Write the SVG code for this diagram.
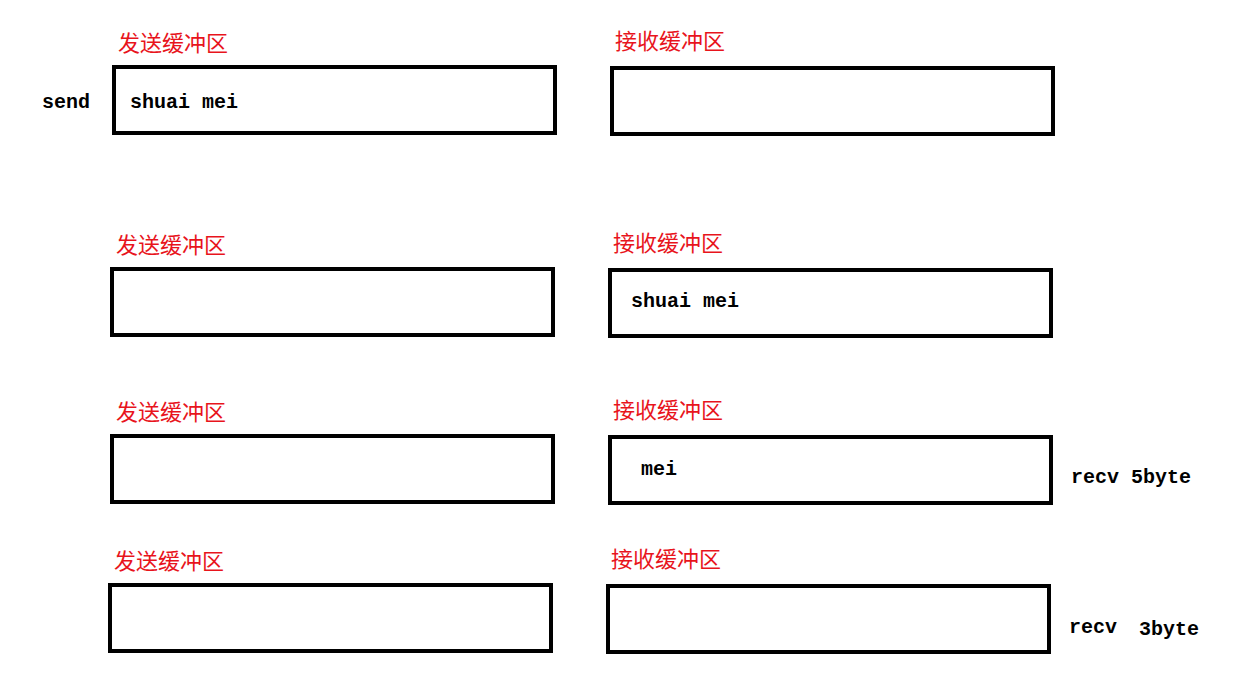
<svg xmlns="http://www.w3.org/2000/svg" width="1257" height="681" viewBox="0 0 1257 681">
<style>
.box{fill:#fff;stroke:#000;stroke-width:4}
.cn{font-family:"Noto Sans CJK SC",sans-serif;font-size:22px;fill:#e8141c}
.t{font-family:"Liberation Mono",monospace;font-size:20px;font-weight:bold;fill:#000}
</style>
<rect width="1257" height="681" fill="#fff"/>
<g id="row1-send"><text class="cn" x="118" y="51">发送缓冲区</text><rect class="box" x="114" y="67" width="441" height="66"/><text class="t" x="130" y="108">shuai mei</text></g>
<g id="row1-recv"><text class="cn" x="615" y="49">接收缓冲区</text><rect class="box" x="612" y="68" width="441" height="66"/></g>
<text class="t" x="42" y="108">send</text>
<g id="row2-send"><text class="cn" x="116" y="253">发送缓冲区</text><rect class="box" x="112" y="269" width="441" height="66"/></g>
<g id="row2-recv"><text class="cn" x="613" y="251">接收缓冲区</text><rect class="box" x="610" y="270" width="441" height="66"/><text class="t" x="631" y="307">shuai mei</text></g>
<g id="row3-send"><text class="cn" x="116" y="420">发送缓冲区</text><rect class="box" x="112" y="436" width="441" height="66"/></g>
<g id="row3-recv"><text class="cn" x="613" y="418">接收缓冲区</text><rect class="box" x="610" y="437" width="441" height="66"/><text class="t" x="641" y="475">mei</text></g>
<text class="t" x="1071" y="483">recv 5byte</text>
<g id="row4-send"><text class="cn" x="114" y="569">发送缓冲区</text><rect class="box" x="110" y="585" width="441" height="66"/></g>
<g id="row4-recv"><text class="cn" x="611" y="567">接收缓冲区</text><rect class="box" x="608" y="586" width="441" height="66"/></g>
<text class="t" x="1069" y="633">recv</text><text class="t" x="1139" y="635">3byte</text>
<g id="connectors"/>
</svg>
